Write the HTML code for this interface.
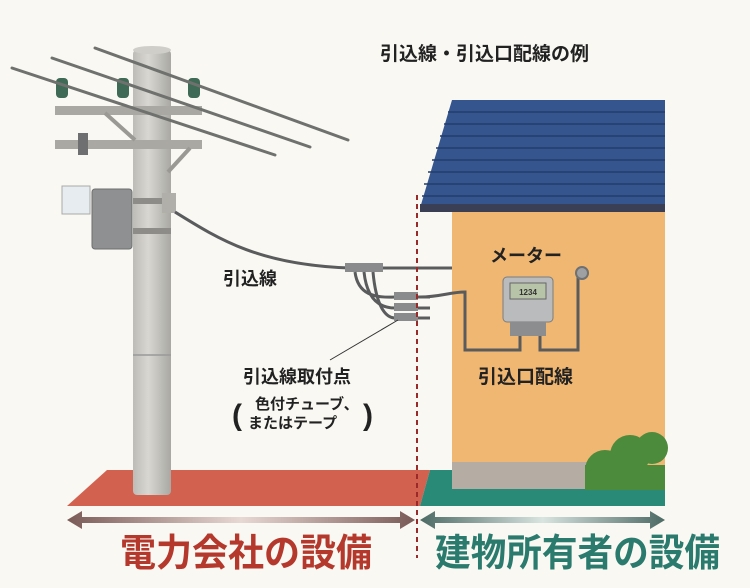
<!DOCTYPE html>
<html><head><meta charset="utf-8"><style>
html,body{margin:0;padding:0;background:#f9f8f3;}
svg{display:block}
text{font-family:"Liberation Sans","Noto Sans CJK JP",sans-serif;font-weight:bold}
</style></head><body>
<svg width="750" height="588" viewBox="0 0 750 588" xmlns="http://www.w3.org/2000/svg">
<defs>
<linearGradient id="pole" x1="0" x2="1"><stop offset="0" stop-color="#bdbcb6"/><stop offset="0.4" stop-color="#d8d7d1"/><stop offset="1" stop-color="#a9a8a2"/></linearGradient>
<linearGradient id="ar1" x1="0" x2="1"><stop offset="0" stop-color="#7a5a56"/><stop offset="0.5" stop-color="#e8d8d4"/><stop offset="1" stop-color="#7a5a56"/></linearGradient>
<linearGradient id="ar2" x1="0" x2="1"><stop offset="0" stop-color="#4d6a64"/><stop offset="0.5" stop-color="#d8e4e0"/><stop offset="1" stop-color="#4d6a64"/></linearGradient>
</defs>
<rect width="750" height="588" fill="#f9f8f3"/>
<polygon points="107,470 430,470 420,506 67,506" fill="#d2614f"/>
<polygon points="430,470 665,470 665,506 420,506" fill="#2a8a78"/>
<rect x="452" y="200" width="213" height="268" fill="#f0b772"/>
<rect x="452" y="462" width="140" height="27" fill="#b5aca4"/>
<polygon points="452,100 665,100 665,208 420,208" fill="#34558e"/>
<g stroke="#243c6a" stroke-width="1.5">
<line x1="448" y1="112" x2="665" y2="112"/><line x1="444" y1="124" x2="665" y2="124"/><line x1="440" y1="136" x2="665" y2="136"/><line x1="436" y1="148" x2="665" y2="148"/><line x1="432" y1="160" x2="665" y2="160"/><line x1="428" y1="172" x2="665" y2="172"/><line x1="424" y1="184" x2="665" y2="184"/><line x1="422" y1="196" x2="665" y2="196"/>
</g>
<rect x="420" y="204" width="245" height="8" fill="#3a3f55"/>
<g fill="#4c8a3c"><circle cx="605" cy="470" r="20"/><circle cx="630" cy="455" r="20"/><circle cx="652" cy="448" r="16"/><rect x="585" y="465" width="80" height="25"/></g>
<rect x="133" y="50" width="38" height="445" rx="4" fill="url(#pole)"/>
<ellipse cx="152" cy="50" rx="19" ry="4" fill="#cfcec8"/>
<line x1="133" y1="355" x2="171" y2="355" stroke="#999" stroke-width="1.5"/>
<rect x="55" y="106" width="147" height="9" fill="#a9a8a3"/>
<rect x="55" y="140" width="147" height="9" fill="#a9a8a3"/>
<line x1="105" y1="113" x2="135" y2="140" stroke="#9a9994" stroke-width="4"/>
<line x1="190" y1="148" x2="168" y2="172" stroke="#9a9994" stroke-width="4"/>
<g fill="#3f6a55"><rect x="56" y="78" width="12" height="20" rx="4"/><rect x="117" y="78" width="12" height="20" rx="4"/><rect x="188" y="78" width="12" height="20" rx="4"/></g>
<g stroke="#6f716e" stroke-width="3" stroke-linecap="round">
<line x1="12" y1="68" x2="275" y2="155"/><line x1="52" y1="58" x2="310" y2="147"/><line x1="95" y1="48" x2="348" y2="140"/>
</g>
<rect x="92" y="189" width="40" height="60" rx="3" fill="#8e9091" stroke="#6d6f70"/>
<rect x="62" y="186" width="28" height="28" fill="#e6ecef" stroke="#aaa"/>
<rect x="78" y="133" width="10" height="22" fill="#6d6f70"/>
<rect x="133" y="198" width="42" height="6" fill="#8d8c88"/>
<rect x="133" y="228" width="38" height="6" fill="#8d8c88"/>
<rect x="162" y="193" width="14" height="20" fill="#b0afaa"/>
<path d="M175,212 C220,240 260,265 350,268 L452,268" stroke="#5a5b5c" stroke-width="3" fill="none"/>
<rect x="345" y="263" width="38" height="9" fill="#8a8b8c"/>
<g stroke="#5a5b5c" stroke-width="3" fill="none">
<path d="M355,272 C358,295 375,298 395,297 L430,297"/>
<path d="M364,272 C367,300 380,308 395,308 L430,308"/>
<path d="M373,272 C376,305 385,318 395,318 L430,318"/>
<path d="M420,297 C440,297 450,292 465,292 L465,350 L520,350 L520,330"/>
<path d="M540,330 L540,350 L578,350 L578,275"/>
</g>
<rect x="394" y="292" width="24" height="8" fill="#8a8b8c"/>
<rect x="394" y="303" width="24" height="8" fill="#8a8b8c"/>
<rect x="394" y="313" width="24" height="8" fill="#8a8b8c"/>
<line x1="398" y1="320" x2="330" y2="360" stroke="#333" stroke-width="1"/>
<circle cx="582" cy="273" r="6" fill="#9ea0a2" stroke="#6e7072" stroke-width="2"/>
<rect x="503" y="277" width="50" height="45" rx="4" fill="#b9bbbd" stroke="#7a7c7e"/>
<rect x="510" y="283" width="36" height="16" fill="#b8c4a8" stroke="#666"/>
<text x="528" y="295" font-size="8" text-anchor="middle" fill="#333">1234</text>
<rect x="510" y="322" width="36" height="14" fill="#8b8d8f"/>
<line x1="417" y1="195" x2="417" y2="558" stroke="#9a2a2a" stroke-width="2" stroke-dasharray="5,4"/>
<polygon points="67,520 82,511 82,517 400,517 400,511 415,520 400,529 400,523 82,523 82,529" fill="url(#ar1)"/>
<polygon points="420,520 435,511 435,517 650,517 650,511 665,520 650,529 650,523 435,523 435,529" fill="url(#ar2)"/>
<text x="380" y="60" font-size="19" fill="#222">引込線・引込口配線の例</text>
<text x="223" y="285" font-size="18" fill="#222">引込線</text>
<text x="490" y="262" font-size="18" fill="#222">メーター</text>
<text x="478" y="383" font-size="19" fill="#222">引込口配線</text>
<text x="243" y="383" font-size="18" fill="#222">引込線取付点</text>
<text x="232" y="425" font-size="30" font-weight="normal" fill="#222">(</text>
<text x="363" y="425" font-size="30" font-weight="normal" fill="#222">)</text>
<text x="255" y="409" font-size="15" fill="#222">色付チューブ、</text>
<text x="248" y="428" font-size="15" fill="#222">またはテープ</text>
<text x="120" y="566" font-size="38" fill="#b5382c" textLength="252" lengthAdjust="spacingAndGlyphs">電力会社の設備</text>
<text x="435" y="566" font-size="38" fill="#2a7a6e" textLength="285" lengthAdjust="spacingAndGlyphs">建物所有者の設備</text>
</svg>
</body></html>
